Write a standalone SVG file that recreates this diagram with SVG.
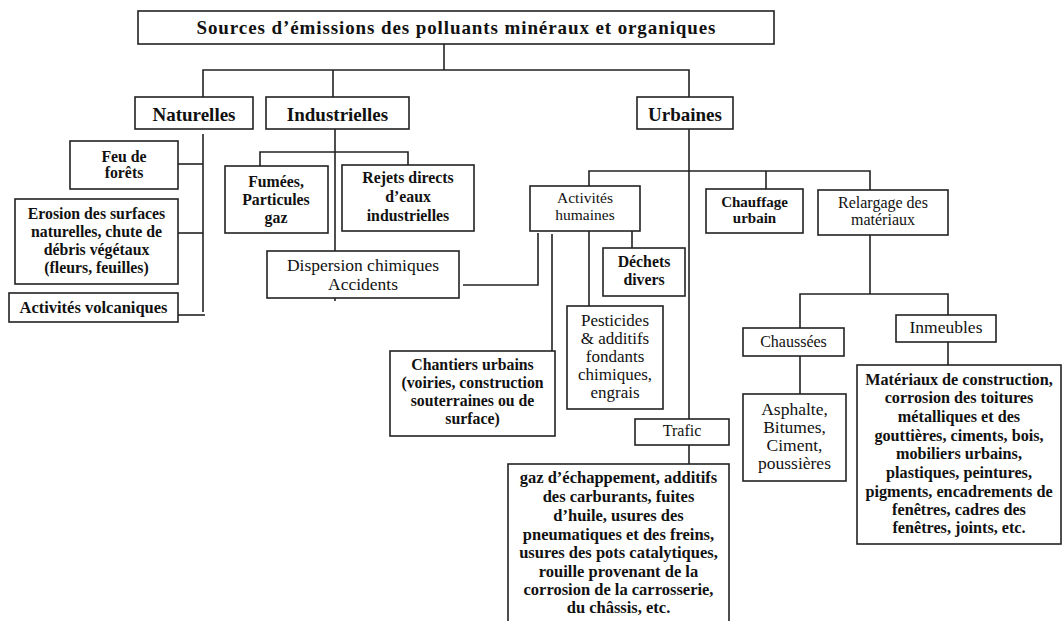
<svg xmlns="http://www.w3.org/2000/svg" width="1062" height="621" viewBox="0 0 1062 621">
<style>
.b{fill:#fff;stroke:#222;stroke-width:1.6}
.c line,.c polyline{stroke:#222;stroke-width:1.6;fill:none}
text{font-family:"Liberation Serif","Times New Roman",serif;fill:#111;text-anchor:middle}
.n{font-size:17px}
.bd{font-size:15.8px;font-weight:bold}
.h{font-size:19px;font-weight:bold}
</style>
<rect width="1062" height="621" fill="#fff"/>
<g class="c" id="connectors">
<line x1="444" y1="44" x2="444" y2="70"/>
<polyline points="203,97 203,70 689,70 689,97"/>
<line x1="333" y1="70" x2="333" y2="97"/>
<line x1="203" y1="134" x2="203" y2="312"/>
<line x1="178" y1="164" x2="203" y2="164"/>
<line x1="178" y1="233" x2="203" y2="233"/>
<line x1="175" y1="315" x2="205" y2="315"/>
<line x1="335" y1="129" x2="335" y2="301"/>
<polyline points="260,166 260,152 408,152 408,165"/>
<polyline points="463,285 538,285 538,233"/>
<line x1="689" y1="129" x2="689" y2="419"/>
<polyline points="589,186 589,171 870,171 870,190"/>
<line x1="766" y1="171" x2="766" y2="189"/>
<line x1="552" y1="234" x2="552" y2="351"/>
<line x1="589" y1="231" x2="589" y2="306"/>
<line x1="632" y1="231" x2="632" y2="248"/>
<line x1="689" y1="445" x2="689" y2="464"/>
<line x1="870" y1="235" x2="870" y2="294"/>
<polyline points="800,328 800,294 948,294 948,315"/>
<line x1="800" y1="356" x2="800" y2="394"/>
<line x1="948" y1="342" x2="948" y2="365"/>
</g>
<g id="title"><rect class="b" x="138" y="11" width="636" height="33"/><text class="h" x="456" y="34" textLength="519" lengthAdjust="spacing">Sources d’émissions des polluants minéraux et organiques</text></g>
<g id="naturelles"><rect class="b" x="135" y="97" width="118" height="32"/><text class="h" x="194" y="121">Naturelles</text></g>
<g id="industrielles"><rect class="b" x="266" y="97" width="143" height="32"/><text class="h" x="337.5" y="121">Industrielles</text></g>
<g id="urbaines"><rect class="b" x="637" y="97" width="96" height="32"/><text class="h" x="685" y="121">Urbaines</text></g>
<g id="feu"><rect class="b" x="70" y="141" width="108" height="48"/><text class="bd" x="124"><tspan x="124" y="162">Feu de</tspan><tspan x="124" y="178">forêts</tspan></text></g>
<g id="erosion"><rect class="b" x="15" y="199" width="163" height="85"/><text class="bd" x="96.5"><tspan x="96.5" y="219">Erosion des surfaces</tspan><tspan x="96.5" y="237">naturelles, chute de</tspan><tspan x="96.5" y="255">débris végétaux</tspan><tspan x="96.5" y="273">(fleurs, feuilles)</tspan></text></g>
<g id="volcan"><rect class="b" x="9" y="293" width="169" height="29"/><text class="bd" x="93.5" y="313" style="font-size:16.5px">Activités volcaniques</text></g>
<g id="fumees"><rect class="b" x="225" y="166" width="103" height="67"/><text class="bd" x="276"><tspan x="276" y="187">Fumées,</tspan><tspan x="276" y="205">Particules</tspan><tspan x="276" y="223">gaz</tspan></text></g>
<g id="rejets"><rect class="b" x="342" y="165" width="132" height="66"/><text class="bd" x="408"><tspan x="408" y="183">Rejets directs</tspan><tspan x="408" y="202">d’eaux</tspan><tspan x="408" y="221">industrielles</tspan></text></g>
<g id="dispersion"><rect class="b" x="267" y="251" width="192" height="47"/><text class="n" x="363" style="font-size:17.5px"><tspan x="363" y="271">Dispersion chimiques</tspan><tspan x="363" y="290">Accidents</tspan></text></g>
<g id="activites"><rect class="b" x="530" y="186" width="110" height="45"/><text class="n" x="585" style="font-size:15.5px"><tspan x="585" y="203">Activités</tspan><tspan x="585" y="220">humaines</tspan></text></g>
<g id="chauffage"><rect class="b" x="706" y="189" width="97" height="44"/><text class="bd" x="754.5" style="font-size:15px"><tspan x="754.5" y="207">Chauffage</tspan><tspan x="754.5" y="223">urbain</tspan></text></g>
<g id="relargage"><rect class="b" x="818" y="190" width="130" height="45"/><text class="n" x="883" style="font-size:16px"><tspan x="883" y="208">Relargage des</tspan><tspan x="883" y="225">matériaux</tspan></text></g>
<g id="dechets"><rect class="b" x="603" y="248" width="82" height="48"/><text class="bd" x="644"><tspan x="644" y="267">Déchets</tspan><tspan x="644" y="285">divers</tspan></text></g>
<g id="pesticides"><rect class="b" x="567" y="306" width="96" height="103"/><text class="n" x="615"><tspan x="615" y="326">Pesticides</tspan><tspan x="615" y="344">&amp; additifs</tspan><tspan x="615" y="362">fondants</tspan><tspan x="615" y="380">chimiques,</tspan><tspan x="615" y="398">engrais</tspan></text></g>
<g id="chantiers"><rect class="b" x="390" y="351" width="165" height="85"/><text class="bd" x="472.5"><tspan x="472.5" y="370">Chantiers urbains</tspan><tspan x="472.5" y="388">(voiries, construction</tspan><tspan x="472.5" y="406">souterraines ou de</tspan><tspan x="472.5" y="424">surface)</tspan></text></g>
<g id="trafic"><rect class="b" x="635" y="419" width="94" height="26"/><text class="n" x="682" y="436" style="font-size:16px">Trafic</text></g>
<g id="trafic-detail"><rect class="b" x="508" y="464" width="221" height="165"/><text class="bd" x="618.5" style="font-size:16.5px"><tspan x="618.5" y="483">gaz d’échappement, additifs</tspan><tspan x="618.5" y="502">des carburants, fuites</tspan><tspan x="618.5" y="521">d’huile, usures des</tspan><tspan x="618.5" y="540">pneumatiques et des freins,</tspan><tspan x="618.5" y="558">usures des pots catalytiques,</tspan><tspan x="618.5" y="577">rouille provenant de la</tspan><tspan x="618.5" y="595">corrosion de la carrosserie,</tspan><tspan x="618.5" y="613">du châssis, etc.</tspan></text></g>
<g id="chaussees"><rect class="b" x="743" y="328" width="101" height="28"/><text class="n" x="793.5" y="347" style="font-size:16px">Chaussées</text></g>
<g id="immeubles"><rect class="b" x="896" y="315" width="100" height="27"/><text class="n" x="946" y="333" style="font-size:17.5px">Inmeubles</text></g>
<g id="asphalte"><rect class="b" x="743" y="394" width="103" height="87"/><text class="n" x="794.5" style="font-size:17.5px"><tspan x="794.5" y="415">Asphalte,</tspan><tspan x="794.5" y="433">Bitumes,</tspan><tspan x="794.5" y="451">Ciment,</tspan><tspan x="794.5" y="469">poussières</tspan></text></g>
<g id="materiaux"><rect class="b" x="857" y="365" width="204" height="179"/><text class="bd" x="959" style="font-size:16.2px"><tspan x="959" y="385">Matériaux de construction,</tspan><tspan x="959" y="403">corrosion des toitures</tspan><tspan x="959" y="422">métalliques et des</tspan><tspan x="959" y="441">gouttières, ciments, bois,</tspan><tspan x="959" y="459">mobiliers urbains,</tspan><tspan x="959" y="478">plastiques, peintures,</tspan><tspan x="959" y="497">pigments, encadrements de</tspan><tspan x="959" y="515">fenêtres, cadres des</tspan><tspan x="959" y="533">fenêtres, joints, etc.</tspan></text></g>
</svg>
